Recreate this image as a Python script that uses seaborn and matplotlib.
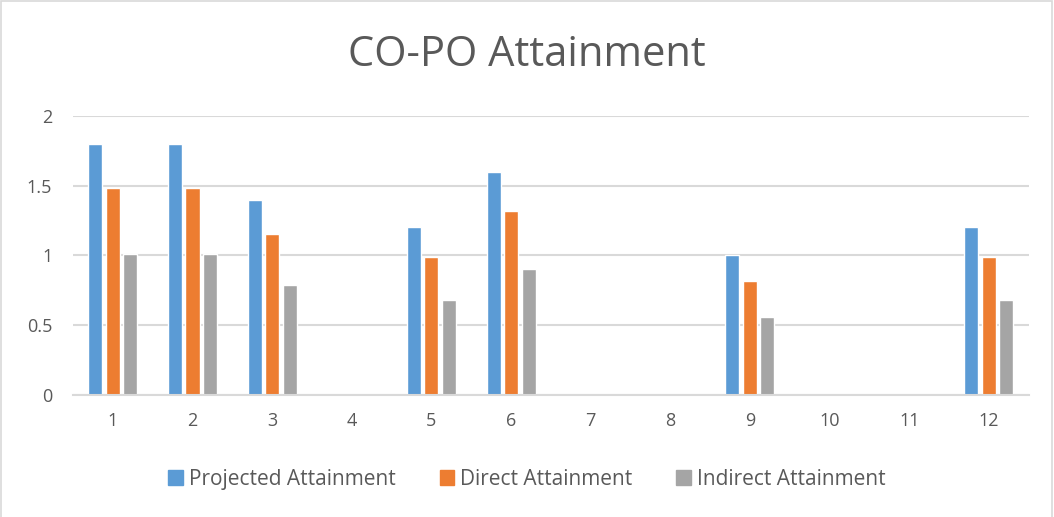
import pandas as pd
import numpy as np
import seaborn as sns
import matplotlib.pyplot as plt
from matplotlib.patches import Rectangle

# --- data ---
pos = ['1', '2', '3', '4', '5', '6', '7', '8', '9', '10', '11', '12']
projected = [1.8, 1.8, 1.4, 0, 1.2, 1.6, 0, 0, 1.0, 0, 0, 1.2]
direct = [1.48, 1.48, 1.15, 0, 0.99, 1.32, 0, 0, 0.82, 0, 0, 0.99]
indirect = [1.01, 1.01, 0.79, 0, 0.68, 0.90, 0, 0, 0.56, 0, 0, 0.68]
series = ['Projected Attainment', 'Direct Attainment', 'Indirect Attainment']
colors = ['#5B9BD5', '#ED7D31', '#A5A5A5']

df = pd.DataFrame({
    'PO': pos * 3,
    'Value': projected + direct + indirect,
    'Series': np.repeat(series, len(pos)),
})

sns.set_style("white")
plt.rcParams['font.family'] = ['Open Sans', 'DejaVu Sans']

fig = plt.figure(figsize=(10.54, 5.17), dpi=100)
ax = fig.add_axes([0.0693, 0.236, 0.9067, 0.54])

sns.barplot(data=df, x='PO', y='Value', hue='Series', order=pos,
            hue_order=series, palette=colors, width=0.66, gap=0.2,
            saturation=1, ax=ax, legend=False)

ax.set_ylim(0, 2)
ax.set_yticks([0, 0.5, 1, 1.5, 2])
ax.set_yticklabels(['0', '0.5', '1', '1.5', '2'])
ax.set_xlim(-0.5, 11.5)
ax.set_xlabel('')
ax.set_ylabel('')
ax.yaxis.grid(True, color='#d9d9d9', linewidth=1.5)
ax.set_axisbelow(True)
for s in ['top', 'right', 'left']:
    ax.spines[s].set_visible(False)
ax.spines['bottom'].set_color('#d9d9d9')
ax.spines['bottom'].set_linewidth(1.5)
ax.tick_params(axis='both', length=0, labelsize=13, colors='#595959')
ax.tick_params(axis='y', pad=15)
ax.tick_params(axis='x', pad=12)

fig.text(0.5, 0.893, 'CO-PO Attainment', ha='center', va='center',
         fontsize=30, color='#595959')

handles = [Rectangle((0, 0), 1, 1, color=c) for c in colors]
fig.legend(handles, series, loc='center', bbox_to_anchor=(0.5, 0.073),
           ncol=3, frameon=False, fontsize=15, labelcolor='#595959',
           handlelength=0.7, handleheight=0.7, handletextpad=0.3,
           columnspacing=2.1)

# light chart border
fig.patches.append(Rectangle((0.001, -0.01), 0.997, 1.008, transform=fig.transFigure,
                             fill=False, edgecolor='#d9d9d9', linewidth=1.2))

plt.savefig('out.png', dpi=100)
